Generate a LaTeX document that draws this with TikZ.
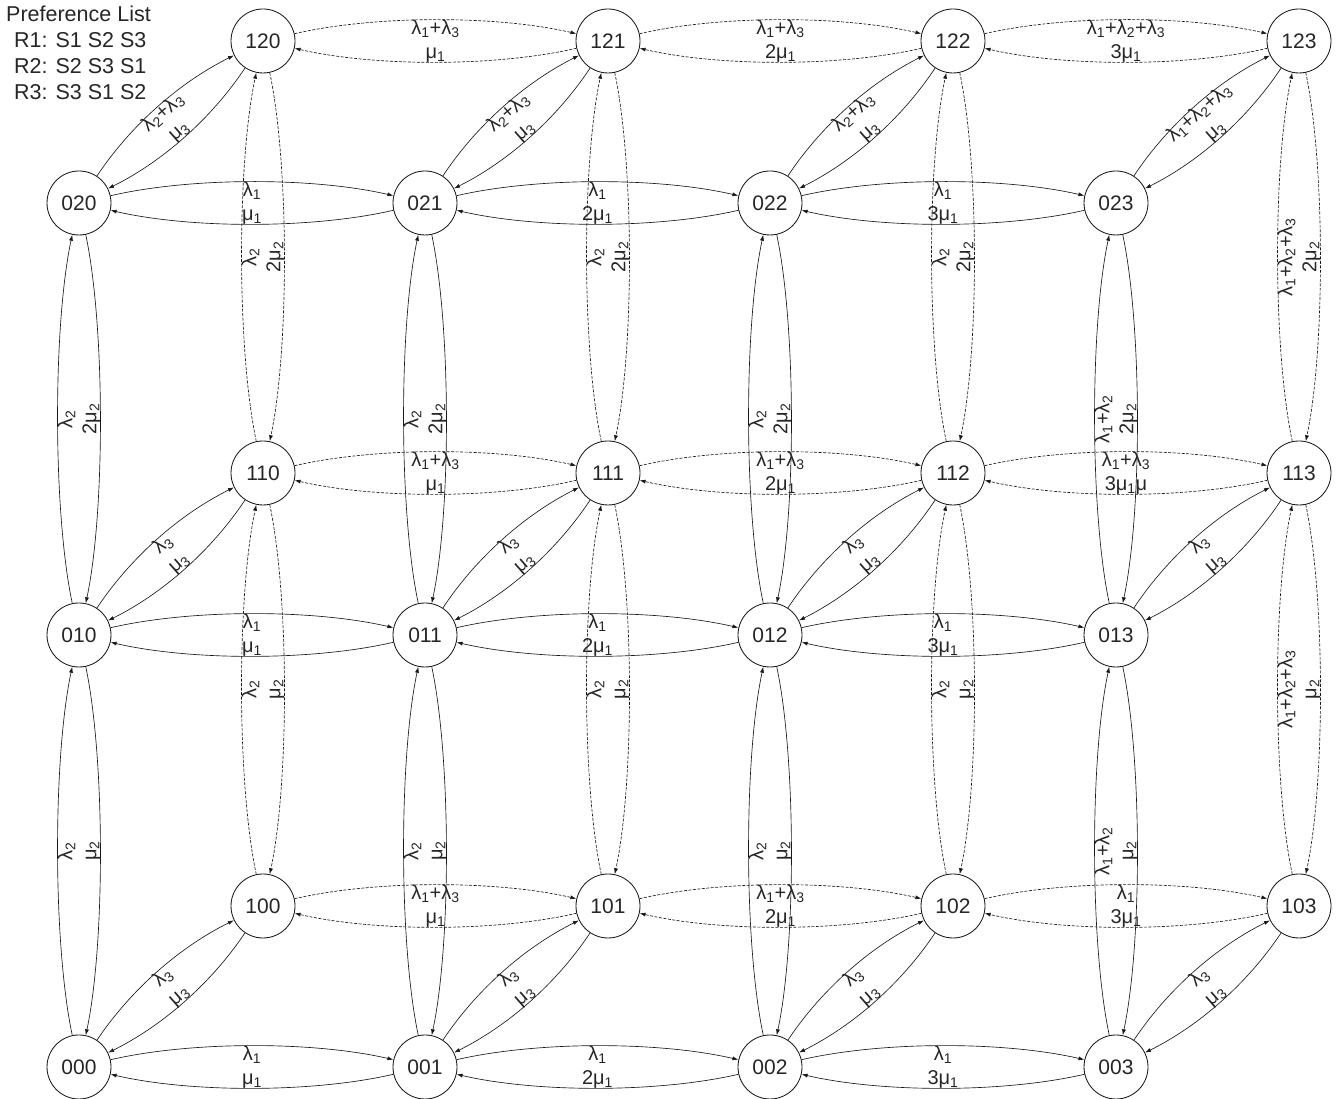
\documentclass[tikz,border=0pt]{standalone}
\usepackage{fontspec}
\setmainfont{Liberation Sans}
\usetikzlibrary{arrows.meta}
\newcommand\Lm[1]{λ\textsubscript{#1}}
\newcommand\Mu[1]{μ\textsubscript{#1}}
% #1 lower node, #2 higher node, #3 bend style, #4 line style, #5 rotation, #6 forward label, #7 backward label
\newcommand\edgepair[7]{%
  \draw[edge,#4] (#1) to[#3] (#2);
  \draw[edge,#4] (#2) to[#3] (#1);
  \path (#1) -- node[elabel,rotate=#5] (l#1#2) {#6\\#7} (#2);
}
\begin{document}
\begin{tikzpicture}[x=1pt,y=1pt,
  st/.style={circle, draw=black!90, line width=0.85pt, minimum size=64pt, inner sep=0pt, font=\fontsize{21}{25}\selectfont, text=black!85},
  edge/.style={draw=black!90, line width=0.65pt, -{Latex[length=6pt,width=4pt]}},
  dsh/.style={dash pattern=on 3pt off 1.5pt},
  sld/.style={},
  elabel/.style={align=center, font=\fontsize{20}{24}\selectfont, inner sep=0pt, text=black!85},
  hb/.style={bend left=13, looseness=0.75},
  vb/.style={bend left=12, looseness=0.65},
  db/.style={bend left=15, looseness=0.85}]
\useasboundingbox (0,0) rectangle (1341,1099);
% front layer
\node[st] (n000) at (79,32) {000};
\node[st] (n001) at (425,32) {001};
\node[st] (n002) at (770,32) {002};
\node[st] (n003) at (1116,32) {003};
\node[st] (n010) at (79,464) {010};
\node[st] (n011) at (425,464) {011};
\node[st] (n012) at (770,464) {012};
\node[st] (n013) at (1116,464) {013};
\node[st] (n020) at (79,896) {020};
\node[st] (n021) at (425,896) {021};
\node[st] (n022) at (770,896) {022};
\node[st] (n023) at (1116,896) {023};
% back layer
\node[st] (n100) at (263,193) {100};
\node[st] (n101) at (608,193) {101};
\node[st] (n102) at (953,193) {102};
\node[st] (n103) at (1299,193) {103};
\node[st] (n110) at (263,626) {110};
\node[st] (n111) at (608,626) {111};
\node[st] (n112) at (953,626) {112};
\node[st] (n113) at (1299,626) {113};
\node[st] (n120) at (263,1058) {120};
\node[st] (n121) at (608,1058) {121};
\node[st] (n122) at (953,1058) {122};
\node[st] (n123) at (1299,1058) {123};

\node[anchor=north west, align=left, inner sep=0pt, font=\fontsize{21.5}{26}\selectfont, text=black!85] (pref) at (6,1093)
  {Preference List\\\hspace*{8pt}R1: S1 S2 S3\\\hspace*{8pt}R2: S2 S3 S1\\\hspace*{8pt}R3: S3 S1 S2};

% front horizontals
\edgepair{n000}{n001}{hb}{sld}{0}{\Lm1}{\Mu1}
\edgepair{n001}{n002}{hb}{sld}{0}{\Lm1}{2\Mu1}
\edgepair{n002}{n003}{hb}{sld}{0}{\Lm1}{3\Mu1}
\edgepair{n010}{n011}{hb}{sld}{0}{\Lm1}{\Mu1}
\edgepair{n011}{n012}{hb}{sld}{0}{\Lm1}{2\Mu1}
\edgepair{n012}{n013}{hb}{sld}{0}{\Lm1}{3\Mu1}
\edgepair{n020}{n021}{hb}{sld}{0}{\Lm1}{\Mu1}
\edgepair{n021}{n022}{hb}{sld}{0}{\Lm1}{2\Mu1}
\edgepair{n022}{n023}{hb}{sld}{0}{\Lm1}{3\Mu1}
% front verticals
\edgepair{n000}{n010}{vb}{sld}{90}{\Lm2}{\Mu2}
\edgepair{n010}{n020}{vb}{sld}{90}{\Lm2}{2\Mu2}
\edgepair{n001}{n011}{vb}{sld}{90}{\Lm2}{\Mu2}
\edgepair{n011}{n021}{vb}{sld}{90}{\Lm2}{2\Mu2}
\edgepair{n002}{n012}{vb}{sld}{90}{\Lm2}{\Mu2}
\edgepair{n012}{n022}{vb}{sld}{90}{\Lm2}{2\Mu2}
\edgepair{n003}{n013}{vb}{sld}{90}{\Lm1+\Lm2}{\Mu2}
\edgepair{n013}{n023}{vb}{sld}{90}{\Lm1+\Lm2}{2\Mu2}
% back horizontals
\edgepair{n100}{n101}{hb}{dsh}{0}{\Lm1+\Lm3}{\Mu1}
\edgepair{n101}{n102}{hb}{dsh}{0}{\Lm1+\Lm3}{2\Mu1}
\edgepair{n102}{n103}{hb}{dsh}{0}{\Lm1}{3\Mu1}
\edgepair{n110}{n111}{hb}{dsh}{0}{\Lm1+\Lm3}{\Mu1}
\edgepair{n111}{n112}{hb}{dsh}{0}{\Lm1+\Lm3}{2\Mu1}
\edgepair{n112}{n113}{hb}{dsh}{0}{\Lm1+\Lm3}{3\Mu1μ}
\edgepair{n120}{n121}{hb}{dsh}{0}{\Lm1+\Lm3}{\Mu1}
\edgepair{n121}{n122}{hb}{dsh}{0}{\Lm1+\Lm3}{2\Mu1}
\edgepair{n122}{n123}{hb}{dsh}{0}{\Lm1+\Lm2+\Lm3}{3\Mu1}
% back verticals
\edgepair{n100}{n110}{vb}{dsh}{90}{\Lm2}{\Mu2}
\edgepair{n110}{n120}{vb}{dsh}{90}{\Lm2}{2\Mu2}
\edgepair{n101}{n111}{vb}{dsh}{90}{\Lm2}{\Mu2}
\edgepair{n111}{n121}{vb}{dsh}{90}{\Lm2}{2\Mu2}
\edgepair{n102}{n112}{vb}{dsh}{90}{\Lm2}{\Mu2}
\edgepair{n112}{n122}{vb}{dsh}{90}{\Lm2}{2\Mu2}
\edgepair{n103}{n113}{vb}{dsh}{90}{\Lm1+\Lm2+\Lm3}{\Mu2}
\edgepair{n113}{n123}{vb}{dsh}{90}{\Lm1+\Lm2+\Lm3}{2\Mu2}
% diagonals
\edgepair{n000}{n100}{db}{sld}{41.2}{\Lm3}{\Mu3}
\edgepair{n001}{n101}{db}{sld}{41.2}{\Lm3}{\Mu3}
\edgepair{n002}{n102}{db}{sld}{41.2}{\Lm3}{\Mu3}
\edgepair{n003}{n103}{db}{sld}{41.2}{\Lm3}{\Mu3}
\edgepair{n010}{n110}{db}{sld}{41.2}{\Lm3}{\Mu3}
\edgepair{n011}{n111}{db}{sld}{41.2}{\Lm3}{\Mu3}
\edgepair{n012}{n112}{db}{sld}{41.2}{\Lm3}{\Mu3}
\edgepair{n013}{n113}{db}{sld}{41.2}{\Lm3}{\Mu3}
\edgepair{n020}{n120}{db}{sld}{41.2}{\Lm2+\Lm3}{\Mu3}
\edgepair{n021}{n121}{db}{sld}{41.2}{\Lm2+\Lm3}{\Mu3}
\edgepair{n022}{n122}{db}{sld}{41.2}{\Lm2+\Lm3}{\Mu3}
\edgepair{n023}{n123}{db}{sld}{41.2}{\Lm1+\Lm2+\Lm3}{\Mu3}
\end{tikzpicture}
\end{document}
